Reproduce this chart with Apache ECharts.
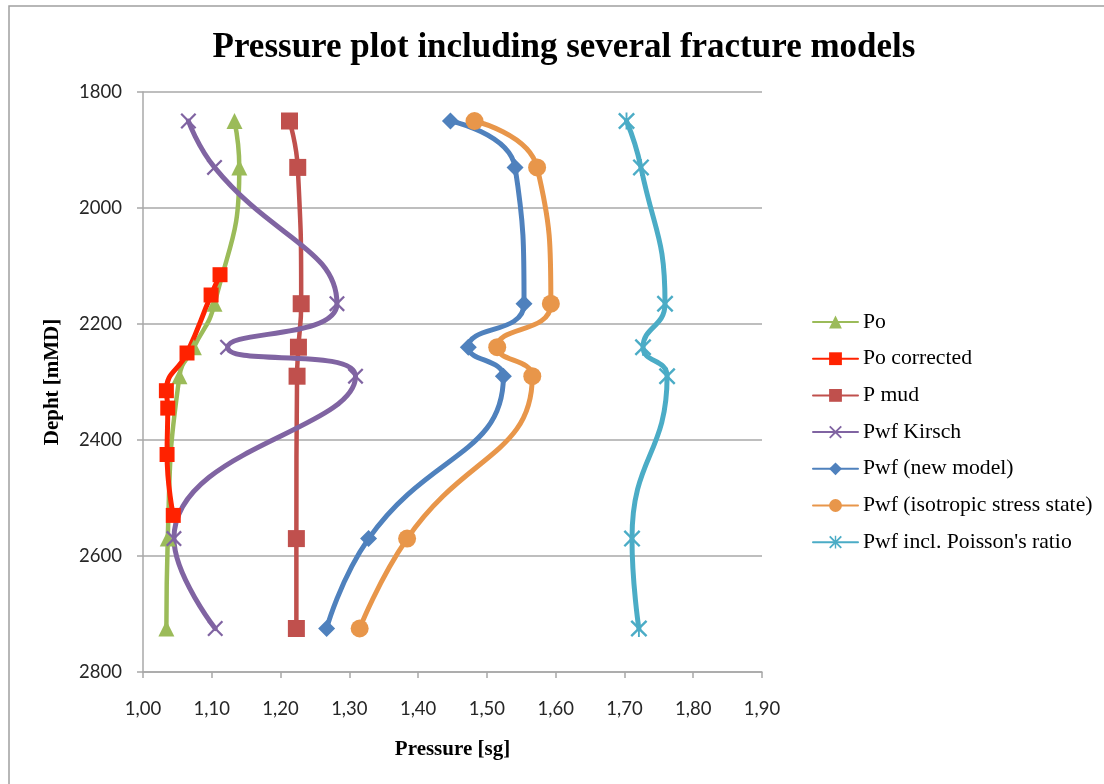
<!DOCTYPE html>
<html>
<head>
<meta charset="utf-8">
<script src="https://cdn.jsdelivr.net/npm/echarts@6/dist/echarts.min.js"></script>
<style>
  html, body { margin: 0; padding: 0; background: #fff; }
  #chart { width: 1104px; height: 784px; }
</style>
</head>
<body>
<div id="chart"></div>
<script>
// Measured depths [mMD] for the main survey points
const depths = [1850, 1930, 2165, 2240, 2290, 2570, 2725];
// Depths where the corrected pore pressure was evaluated
const depthsCorrected = [2115, 2150, 2250, 2315, 2345, 2425, 2530];

// Pressures [sg]
const po          = [1.133, 1.140, 1.104, 1.074, 1.053, 1.036, 1.034];
const poCorrected = [1.112, 1.099, 1.064, 1.034, 1.036, 1.035, 1.044];
const pMud        = [1.213, 1.225, 1.230, 1.226, 1.224, 1.223, 1.223];
const pwfKirsch   = [1.066, 1.104, 1.282, 1.123, 1.309, 1.045, 1.105];
const pwfNew      = [1.447, 1.541, 1.554, 1.473, 1.524, 1.328, 1.267];
const pwfIso      = [1.482, 1.573, 1.593, 1.515, 1.566, 1.384, 1.315];
const pwfPoisson  = [1.703, 1.724, 1.759, 1.727, 1.762, 1.711, 1.721];

const seriesNames = [
  'Po', 'Po corrected', 'P mud', 'Pwf Kirsch',
  'Pwf (new model)', 'Pwf (isotropic stress state)', "Pwf incl. Poisson's ratio"
];

// Pressure axis range and ticks
const xMin = 1.0, xMax = 1.9, xStep = 0.1;
// Depth axis range and ticks
const yMin = 1800, yMax = 2800, yStep = 200;

const pair = (xs, ys) => xs.map((v, i) => [v, ys[i]]);

// Marker shapes
const crossPath = 'path://M0,1L1,0L5,4L9,0L10,1L6,5L10,9L9,10L5,6L1,10L0,9L4,5Z';
const starPath = 'path://M0,1L1,0L5,4L9,0L10,1L6,5L10,9L9,10L5,6L1,10L0,9L4,5Z M4.45,0L5.55,0L5.55,10L4.45,10Z';

const serif = '"Liberation Serif", "DejaVu Serif", serif';

function lineSeries(name, xs, ys, color, symbol, size, width) {
  return {
    name: name,
    type: 'line',
    smooth: 0.5,
    data: pair(xs, ys),
    symbol: symbol,
    symbolSize: size,
    showAllSymbol: true,
    lineStyle: { color: color, width: width, cap: 'round', join: 'round' },
    itemStyle: { color: color, borderWidth: 0 },
    emphasis: { disabled: true },
    z: 3
  };
}

const chart = echarts.init(document.getElementById('chart'), null, { renderer: 'canvas' });

chart.setOption({
  animation: false,
  backgroundColor: '#ffffff',
  title: {
    text: 'Pressure plot including several fracture models',
    left: 559,
    top: 25,
    textAlign: 'center',
    textStyle: { fontFamily: serif, fontWeight: 'bold', fontSize: 35, color: '#000' }
  },
  graphic: [{
    type: 'rect',
    shape: { x: 9, y: 6, width: 1200, height: 1000 },
    style: { fill: 'none', stroke: '#a0a0a0', lineWidth: 1.5 },
    silent: true
  }],
  grid: { left: 143, right: 342, top: 92, bottom: 112 },
  legend: {
    orient: 'vertical',
    left: 807,
    top: 306,
    itemWidth: 45,
    itemHeight: 16,
    itemGap: 14.7,
    textStyle: { fontFamily: serif, fontSize: 21.7, color: '#000', lineHeight: 22 },
    data: seriesNames
  },
  xAxis: {
    type: 'value',
    min: xMin, max: xMax, interval: xStep,
    name: 'Pressure [sg]',
    nameLocation: 'middle',
    nameGap: 67,
    nameTextStyle: { fontFamily: serif, fontWeight: 'bold', fontSize: 21, color: '#000' },
    axisLine: { show: true, onZero: false, lineStyle: { color: '#a8a8a8', width: 1.5 } },
    axisTick: { show: true, inside: false, length: 6, lineStyle: { color: '#a8a8a8', width: 1.5 } },
    axisLabel: {
      margin: 28,
      fontFamily: 'Lato, "Open Sans", sans-serif', fontSize: 18.5, color: '#262626',
      formatter: v => v.toFixed(2).replace('.', ',')
    },
    splitLine: { show: false }
  },
  yAxis: {
    type: 'value',
    inverse: true,
    min: yMin, max: yMax, interval: yStep,
    name: 'Depht [mMD]',
    nameLocation: 'middle',
    nameRotate: 90,
    nameGap: 80,
    nameTextStyle: { fontFamily: serif, fontWeight: 'bold', fontSize: 21, color: '#000' },
    axisLine: { show: true, lineStyle: { color: '#a8a8a8', width: 1.5 } },
    axisTick: { show: true, inside: false, length: 6, lineStyle: { color: '#a8a8a8', width: 1.5 } },
    axisLabel: {
      margin: 21,
      fontFamily: 'Lato, "Open Sans", sans-serif', fontSize: 18.5, color: '#262626',
      formatter: v => String(v)
    },
    splitLine: { show: true, lineStyle: { color: '#a8a8a8', width: 1.5 } }
  },
  series: [
    lineSeries(seriesNames[0], po, depths, '#9BBB59', 'triangle', 16, 4.5),
    lineSeries(seriesNames[1], poCorrected, depthsCorrected, '#FF2200', 'rect', 15, 5),
    lineSeries(seriesNames[2], pMud, depths, '#C0504D', 'rect', 17, 4.5),
    lineSeries(seriesNames[3], pwfKirsch, depths, '#8064A2', crossPath, 16, 5),
    lineSeries(seriesNames[4], pwfNew, depths, '#4F81BD', 'diamond', 17, 5),
    lineSeries(seriesNames[5], pwfIso, depths, '#E8964A', 'circle', 18, 5),
    lineSeries(seriesNames[6], pwfPoisson, depths, '#4BACC6', starPath, 17, 5)
  ]
});
</script>
</body>
</html>
